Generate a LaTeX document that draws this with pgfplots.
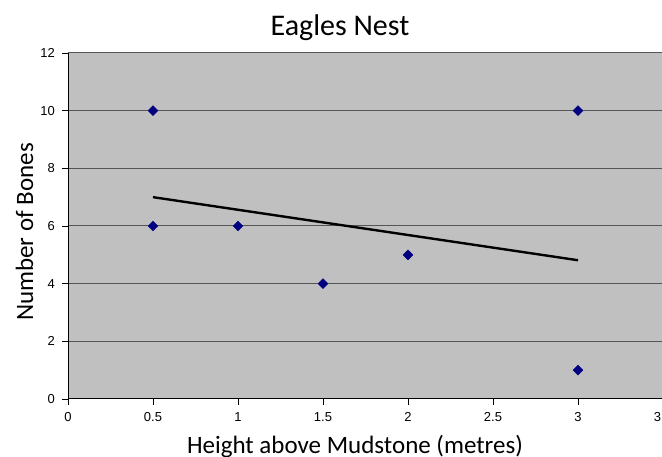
\documentclass[border=0pt]{standalone}
\usepackage{fontspec}
\setmainfont{Carlito}
\newfontfamily\arialf{Liberation Sans}
\usepackage{pgfplots}
\pgfplotsset{compat=1.18}
\definecolor{plotgray}{HTML}{C0C0C0}
\definecolor{navy}{HTML}{000080}
\definecolor{gridc}{HTML}{555555}
\begin{document}
\begin{tikzpicture}[x=1pt,y=1pt]
\begin{axis}[
  at={(68pt,58pt)}, anchor=south west,
  scale only axis, width=595pt, height=346pt,
  xmin=0, xmax=3.5, ymin=0, ymax=12,
  xtick={0,0.5,1,1.5,2,2.5,3,3.5},
  ytick={0,2,4,6,8,10,12},
  axis x line*=bottom, axis y line*=left,
  axis line style={-, black, line width=1pt},
  tick align=outside, major tick length=6pt,
  tick style={black, line width=0.8pt},
  ymajorgrids, grid style={gridc, line width=1pt},
  axis background/.style={fill=plotgray},
  /pgf/number format/assume math mode=true,
  ticklabel style={font=\arialf\fontsize{13}{15}\selectfont},
  yticklabel style={anchor=east, inner sep=0pt, xshift=-7pt},
  xticklabel style={anchor=north, inner sep=0pt, yshift=-7pt},
  clip=false,
]
\addplot[only marks, mark=square*, mark size=3.5pt, mark options={rotate=45, fill=navy, draw=navy}]
  coordinates {(0.5,10) (0.5,6) (1,6) (1.5,4) (2,5) (3,10) (3,1)};
\addplot[black, line width=2.4pt, no marks] coordinates {(0.5,7.0) (3,4.8125)};
\end{axis}
\node[anchor=base, font=\fontsize{30}{36}\selectfont] at (340,421) {Eagles Nest};
\node[anchor=base, font=\fontsize{25}{30}\selectfont] at (355,3) {Height above Mudstone (metres)};
\node[anchor=base, rotate=90, font=\fontsize{25}{30}\selectfont] at (33,225) {Number of Bones};
\pgfresetboundingbox
\path[use as bounding box] (0,0) rectangle (662,457);
\end{tikzpicture}
\end{document}
